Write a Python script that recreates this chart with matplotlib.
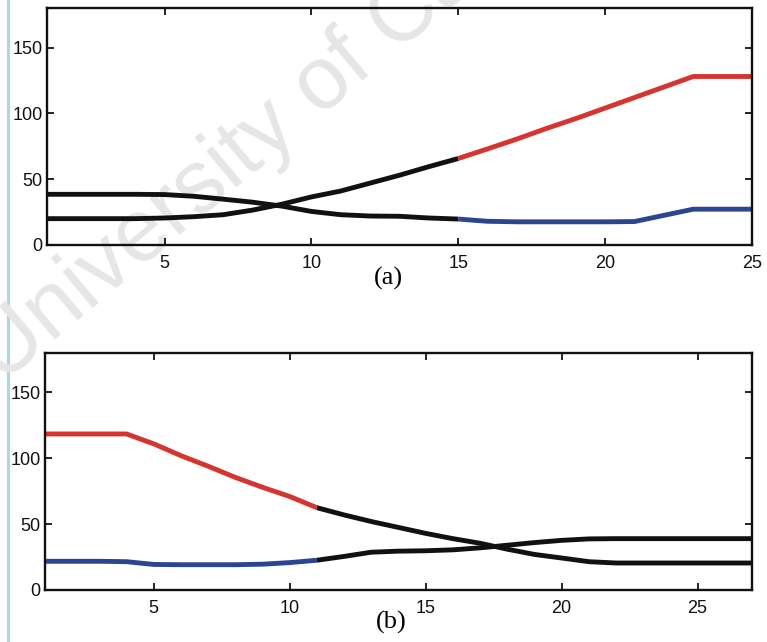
import numpy as np
import matplotlib
matplotlib.use("Agg")
import matplotlib.pyplot as plt
from matplotlib.lines import Line2D

# panel (a)
x_a = np.arange(1, 26)
a_rise = [20, 20, 20, 20, 20.5, 21.5, 23, 26.5, 31, 36.5, 41, 47, 53, 59.5, 65.7,
          73, 80.5, 88.5, 96, 104, 112, 120, 128, 128, 128]
a_fall = [38.5, 38.5, 38.5, 38.5, 38.3, 37, 34.8, 32.5, 29.5, 25.5, 23, 22, 21.8, 20.5, 19.7,
          18, 17.6, 17.6, 17.6, 17.6, 17.8, 22.5, 27.2, 27.2, 27.2]
split_a = 15  # black before, coloured after

# panel (b)
x_b = np.arange(1, 28)
b_fall = [118.5, 118.5, 118.5, 118.5, 111, 102, 94, 85.5, 78, 71, 62.5, 57, 52, 47.5, 43,
          39, 35.5, 31, 27, 24.3, 21.5, 20.5, 20.5, 20.5, 20.5, 20.5, 20.5]
b_rise = [21.8, 21.8, 21.8, 21.5, 19.4, 19.2, 19.2, 19.2, 19.6, 20.8, 22.6, 25.5, 28.7, 29.5, 29.8,
          30.5, 32, 34, 36, 37.7, 38.8, 39, 39, 39, 39, 39, 39]
split_b = 11  # coloured before, black after

RED = "#d6352f"
BLUE = "#2b4591"
BLACK = "#111111"
LW = 3.5

fig = plt.figure(figsize=(7.67, 6.42), dpi=100)

ax1 = fig.add_axes([0.0613, 0.6184, 0.9191, 0.3691])
ax2 = fig.add_axes([0.0587, 0.0810, 0.9217, 0.3692])


def seg(ax, x, y, lo, hi, color):
    x = np.asarray(x)
    y = np.asarray(y)
    m = (x >= lo) & (x <= hi)
    ax.plot(x[m], y[m], color=color, lw=LW, solid_capstyle="butt", solid_joinstyle="round")


# (a)
seg(ax1, x_a, a_rise, 1, split_a, BLACK)
seg(ax1, x_a, a_rise, split_a, 25, RED)
seg(ax1, x_a, a_fall, 1, split_a, BLACK)
seg(ax1, x_a, a_fall, split_a, 25, BLUE)
ax1.set_xlim(1, 25)
ax1.set_xticks([5, 10, 15, 20, 25])

# (b)
seg(ax2, x_b, b_fall, 1, split_b, RED)
seg(ax2, x_b, b_fall, split_b, 27, BLACK)
seg(ax2, x_b, b_rise, 1, split_b, BLUE)
seg(ax2, x_b, b_rise, split_b, 27, BLACK)
ax2.set_xlim(1, 27)
ax2.set_xticks([5, 10, 15, 20, 25])

for ax in (ax1, ax2):
    ax.set_ylim(0, 180)
    ax.set_yticks([0, 50, 100, 150])
    ax.set_facecolor("none")
    ax.tick_params(direction="in", top=True, right=True, length=5, width=1.3,
                   labelsize=13, colors="#111111")
    ax.tick_params(axis="x", pad=7)
    ax.tick_params(axis="y", pad=3)
    for s in ax.spines.values():
        s.set_linewidth(1.7)
        s.set_color("#111111")
    for lab in ax.get_xticklabels() + ax.get_yticklabels():
        lab.set_fontfamily("Liberation Sans")

fig.text(0.507, 0.567, "(a)", ha="center", va="center", fontsize=19,
         family="Liberation Serif")
fig.text(0.510, 0.030, "(b)", ha="center", va="center", fontsize=19,
         family="Liberation Serif")

# watermark and the light blue margin line of the scanned page
fig.text(2 / 767, 1 - 384 / 642, "University of Cape Town", rotation=40,
         rotation_mode="anchor", ha="left", va="baseline", fontsize=64,
         family="Liberation Sans", color="#e6e6e6", zorder=-5)
fig.add_artist(Line2D([8 / 767, 8 / 767], [0, 1], transform=fig.transFigure,
                      color="#a8d8ec", lw=2.2, zorder=-6))

fig.savefig("out.png", dpi=100)
